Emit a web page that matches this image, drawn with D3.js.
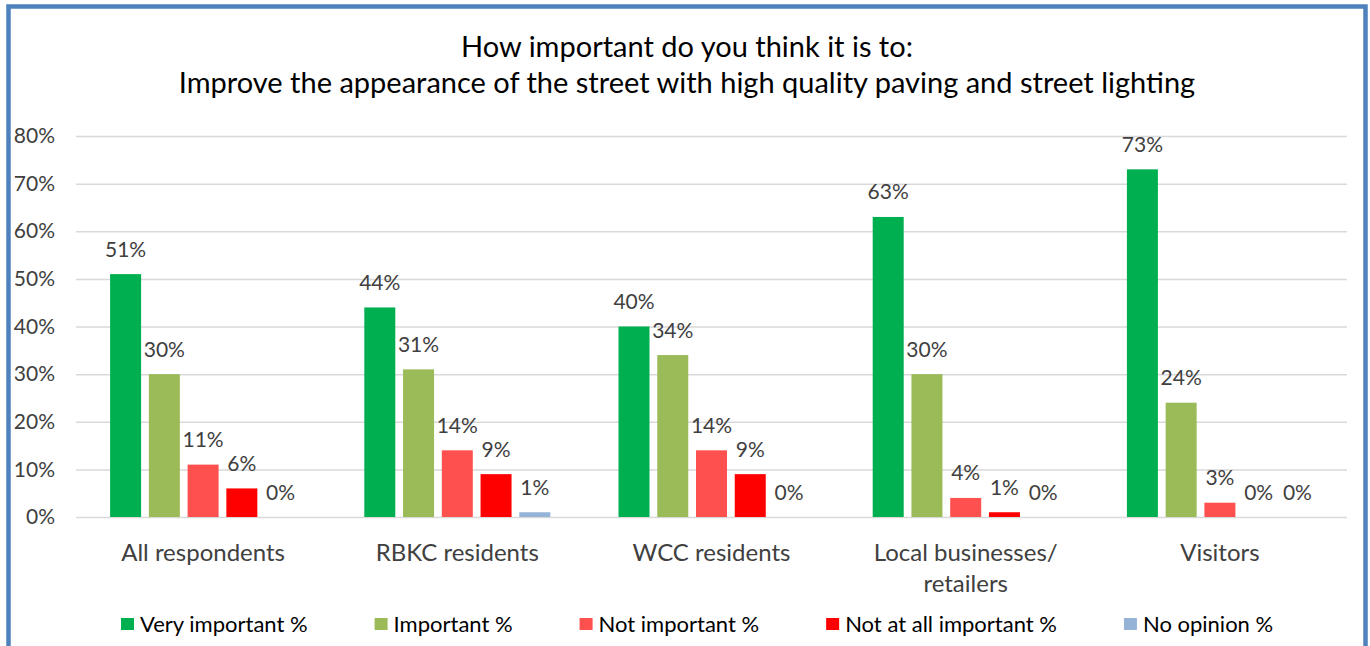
<!DOCTYPE html>
<html>
<head>
<meta charset="utf-8">
<script src="https://cdn.jsdelivr.net/npm/d3@7"></script>
<style>
  html, body { margin: 0; padding: 0; background: #fff; }
  svg { display: block; font-family: Lato, "Open Sans", sans-serif; }
</style>
</head>
<body>
<svg id="chart" width="1370" height="646"></svg>
<script>
// Survey groups along the x axis
const categories = ["All respondents", "RBKC residents", "WCC residents", "Local businesses/\nretailers", "Visitors"];
// Answer options, one bar each within a group
const series = ["Very important %", "Important %", "Not important %", "Not at all important %", "No opinion %"];
// Percentages per answer option, in category order
const veryImportant   = [51, 44, 40, 63, 73];
const important       = [30, 31, 34, 30, 24];
const notImportant    = [11, 14, 14, 4, 3];
const notAtAll        = [6, 9, 9, 1, 0];
const noOpinion       = [0, 1, 0, 0, 0];
const yTicks = [0, 10, 20, 30, 40, 50, 60, 70, 80];
const titleLines = ["How important do you think it is to:", "Improve the appearance of the street with high quality paving and street lighting"];

const seriesValues = [veryImportant, important, notImportant, notAtAll, noOpinion];
const colors = ["#00B050", "#9BBB59", "#FF5050", "#FF0000", "#95B3D7"];

const svg = d3.select("#chart");
const plot = { left: 76, right: 1347, top: 136, bottom: 517 };

// frame around the chart
svg.append("rect")
  .attr("x", 8.5).attr("y", 6.5)
  .attr("width", 1357).attr("height", 660)
  .attr("fill", "#fff")
  .attr("stroke", "#4F81BD").attr("stroke-width", 4.5);

// title
svg.append("g").selectAll("text").data(titleLines).join("text")
  .attr("x", 687)
  .attr("y", (d, i) => 57 + i * 36)
  .attr("text-anchor", "middle")
  .attr("font-size", 29)
  .attr("fill", "#000")
  .text(d => d);

const x0 = d3.scaleBand().domain(categories).range([plot.left, plot.right]).paddingInner(0).paddingOuter(0);
const x1 = d3.scaleBand().domain(series).range([0, x0.bandwidth()]).paddingInner(0.2).paddingOuter(0.88);
const y = d3.scaleLinear().domain([0, 80]).range([plot.bottom, plot.top]);

// value axis with gridlines
const yAxis = d3.axisLeft(y).tickValues(yTicks).tickSize(-(plot.right - plot.left)).tickFormat(d => d + "%").tickPadding(21);
const ga = svg.append("g").attr("transform", `translate(${plot.left},0)`).call(yAxis);
ga.select(".domain").remove();
ga.selectAll(".tick line").attr("stroke", "#D9D9D9").attr("stroke-width", 1.5);
ga.selectAll(".tick text")
  .attr("font-family", "Lato, 'Open Sans', sans-serif")
  .attr("font-size", 21).attr("fill", "#404040");

// clustered bars with value labels
const groups = svg.append("g").selectAll("g").data(categories).join("g")
  .attr("transform", d => `translate(${x0(d)},0)`);

const rows = ci => series.map((s, si) => ({ s, si, v: seriesValues[si][ci] }));

groups.each(function (c, ci) {
  const g = d3.select(this);
  const data = rows(ci);
  g.selectAll("rect").data(data).join("rect")
    .attr("x", d => x1(d.s))
    .attr("width", x1.bandwidth())
    .attr("y", d => y(d.v))
    .attr("height", d => y(0) - y(d.v))
    .attr("fill", d => colors[d.si]);
  g.selectAll("text").data(data).join("text")
    .attr("x", d => x1(d.s) + x1.bandwidth() / 2)
    .attr("y", d => y(d.v) - 17.5)
    .attr("text-anchor", "middle")
    .attr("font-size", 21)
    .attr("fill", "#404040")
    .text(d => d.v + "%");
});

// category labels
const cat = svg.append("g").selectAll("text").data(categories).join("text")
  .attr("x", d => x0(d) + x0.bandwidth() / 2)
  .attr("y", 561)
  .attr("text-anchor", "middle")
  .attr("font-size", 24)
  .attr("fill", "#404040");
cat.selectAll("tspan").data(d => d.split("\n")).join("tspan")
  .attr("x", function () { return d3.select(this.parentNode).attr("x"); })
  .attr("dy", (d, i) => i === 0 ? 0 : 31)
  .text(d => d);

// legend
const legend = svg.append("g").attr("transform", "translate(121,0)");
let lx = 0;
series.forEach((s, i) => {
  const item = legend.append("g").attr("transform", `translate(${lx},0)`);
  item.append("rect").attr("x", 0).attr("y", 618).attr("width", 13).attr("height", 12).attr("fill", colors[i]);
  const t = item.append("text").attr("x", 19).attr("y", 632)
    .attr("font-size", 22).attr("fill", "#000").text(s);
  const w = t.node().getComputedTextLength();
  lx += 19 + w + 67;
});
</script>
</body>
</html>
